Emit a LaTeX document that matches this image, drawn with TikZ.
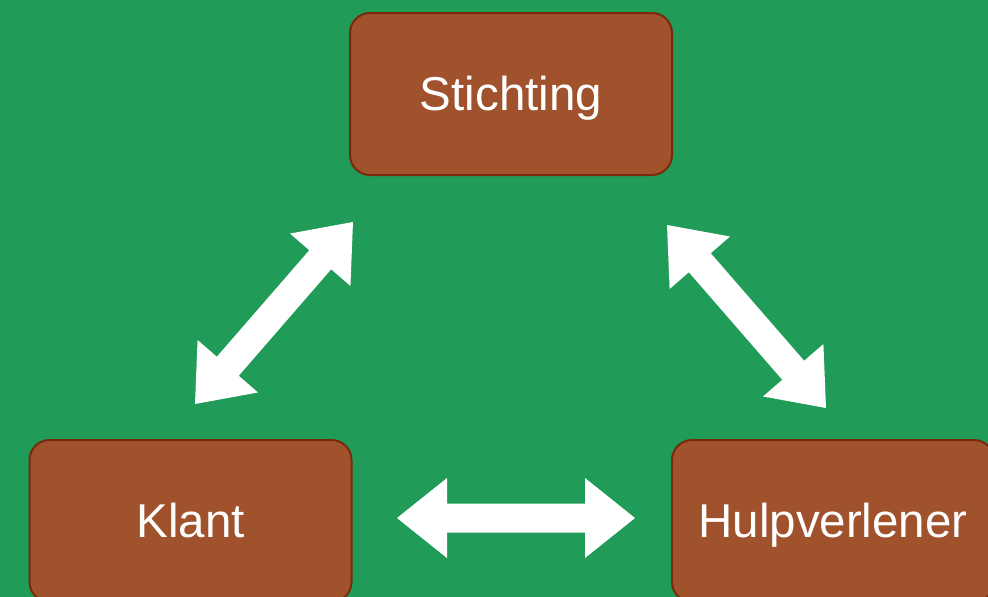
\documentclass[tikz,border=0pt]{standalone}
\usepackage{fontspec}
\setmainfont{Liberation Sans}
\usetikzlibrary{calc}
\definecolor{bggreen}{HTML}{209C58}
\definecolor{boxfill}{HTML}{A0522D}
\definecolor{boxline}{HTML}{7A2A0C}
\newcommand{\blockarr}[3]{%
  \coordinate (#3h1) at ($(#1)!50pt!(#2)$);
  \coordinate (#3h2) at ($(#2)!50pt!(#1)$);
  \fill[arrowfill] (#1) -- ($(#3h1)!40pt!90:(#2)$) -- ($(#3h1)!14.5pt!90:(#2)$)
    -- ($(#3h2)!14.5pt!-90:(#1)$) -- ($(#3h2)!40pt!-90:(#1)$) -- (#2)
    -- ($(#3h2)!40pt!90:(#1)$) -- ($(#3h2)!14.5pt!90:(#1)$)
    -- ($(#3h1)!14.5pt!-90:(#2)$) -- ($(#3h1)!40pt!-90:(#2)$) -- cycle;
}
\begin{document}
\begin{tikzpicture}[x=1pt,y=-1pt,
  box/.style={draw=boxline, line width=2pt, fill=boxfill, rounded corners=20pt,
    minimum width=322pt, minimum height=162pt, inner sep=0pt,
    text height=32pt, text depth=0pt, text=white,
    font=\fontsize{47.5}{57}\selectfont},
  arrowfill/.style={fill=white}]
\fill[bggreen] (0,0) rectangle (988,597);
\useasboundingbox (0,0) rectangle (988,597);
\node[box] (stichting) at (511,94) {Stichting};
\node[box] (klant) at (190.5,521) {Klant};
\node[box] (hulp) at (833,521) {Hulpverlener};
\coordinate (a1) at (195,404);
\coordinate (b1) at (353,222);
\coordinate (a2) at (667,225);
\coordinate (b2) at (826,408);
\coordinate (a3) at (397,518);
\coordinate (b3) at (635,518);
\blockarr{a1}{b1}{l}
\blockarr{a2}{b2}{r}
\blockarr{a3}{b3}{m}
\end{tikzpicture}
\end{document}
